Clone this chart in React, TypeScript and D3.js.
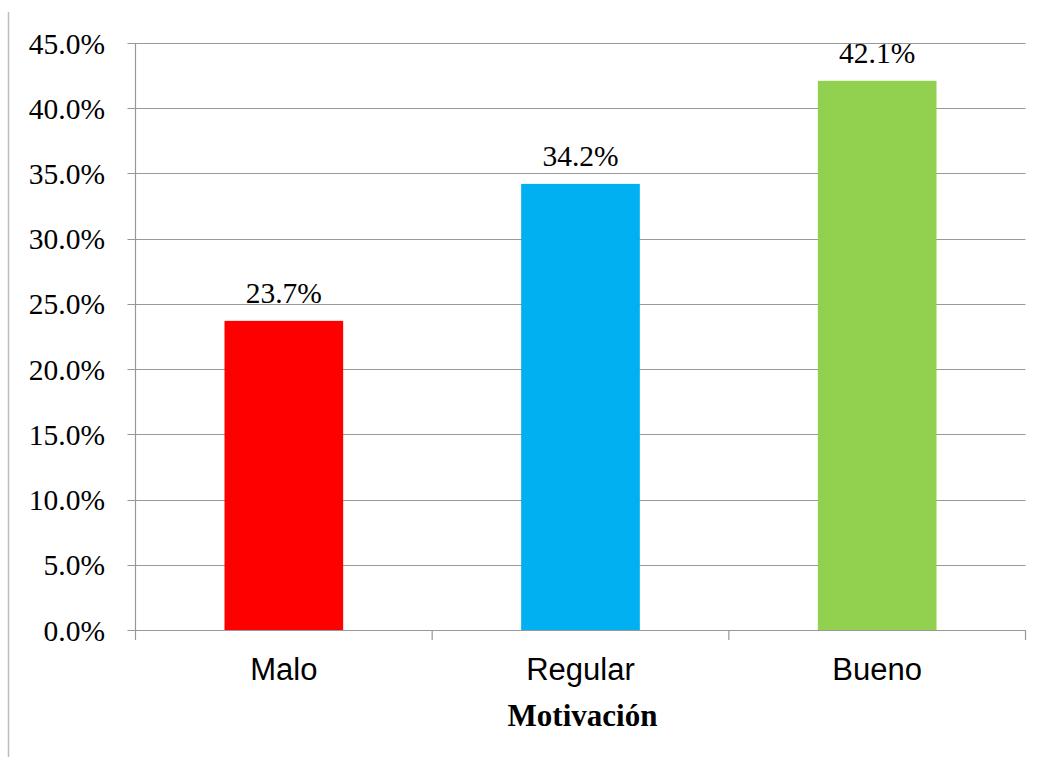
import React from "react";
import * as d3 from "d3";

const categories = ["Malo", "Regular", "Bueno"];
const values = [23.7, 34.2, 42.1];
const colors = ["#FF0000", "#00B0F0", "#92D050"];
const yTicks = [0, 5, 10, 15, 20, 25, 30, 35, 40, 45];
const xTitle = "Motivación";

export default function App() {
  const W = 1040, H = 757;
  const left = 135.5, right = 1025.5, top = 43, bottom = 630;
  const x = d3.scaleBand<string>().domain(categories).range([left, right]).paddingInner(0.6).paddingOuter(0.3);
  const xb = d3.scaleBand<string>().domain(categories).range([left, right]);
  const y = d3.scaleLinear().domain([0, 45]).range([bottom, top]);
  const serifStyle = { fontFamily: '"Liberation Serif", "Times New Roman", serif' };
  const sansStyle = { fontFamily: '"Liberation Sans", Arial, sans-serif' };
  const grid = "#989898";
  return (
    <svg width={W} height={H} style={{ position: "absolute", left: 0, top: 0, background: "#fff" }}>
      <line x1={8.5} x2={8.5} y1={12} y2={757} stroke="#bdbdbd" strokeWidth={1.5} />
      {yTicks.map((t) => (
        <g key={t}>
          <line x1={left - 8} x2={right} y1={Math.round(y(t)) + 0.5} y2={Math.round(y(t)) + 0.5} stroke={grid} strokeWidth={1.2} />
          <text x={105} y={y(t) + 10.5} textAnchor="end" style={serifStyle} fontSize={29.5} fill="#000">
            {t.toFixed(1)}%
          </text>
        </g>
      ))}
      <line x1={left} x2={left} y1={top} y2={bottom} stroke={grid} strokeWidth={1.2} />
      {categories.map((c, i) => (
        <line key={"t" + i} x1={xb(c)!} x2={xb(c)!} y1={bottom} y2={bottom + 10} stroke={grid} strokeWidth={1.2} />
      ))}
      <line x1={right} x2={right} y1={bottom} y2={bottom + 10} stroke={grid} strokeWidth={1.2} />
      {categories.map((c, i) => (
        <g key={c}>
          <rect x={x(c)!} y={y(values[i])} width={x.bandwidth()} height={bottom - y(values[i])} fill={colors[i]} />
          <text x={x(c)! + x.bandwidth() / 2} y={y(values[i]) - 17.5} textAnchor="middle" style={serifStyle} fontSize={29.5} fill="#000">
            {values[i].toFixed(1)}%
          </text>
          <text x={xb(c)! + xb.bandwidth() / 2} y={680} textAnchor="middle" style={sansStyle} fontSize={31} fill="#000">
            {c}
          </text>
        </g>
      ))}
      <text x={(left + right) / 2 + 2} y={726} textAnchor="middle" style={serifStyle} fontWeight="bold" fontSize={31} fill="#000">
        {xTitle}
      </text>
    </svg>
  );
}
